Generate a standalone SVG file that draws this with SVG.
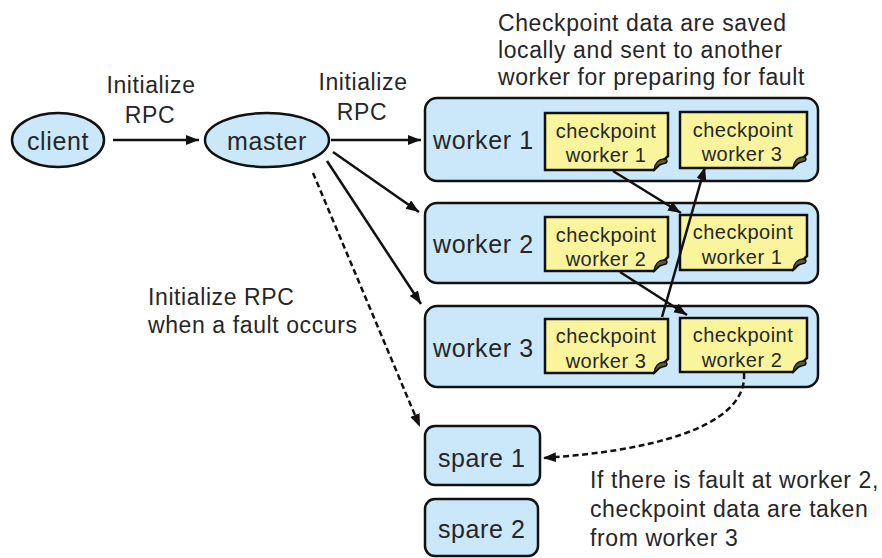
<svg xmlns="http://www.w3.org/2000/svg" width="882" height="558" viewBox="0 0 882 558">
  <style>
    text { font-family: "Liberation Sans", Arial, Helvetica, sans-serif; fill: #262626; letter-spacing: 0.6px; }
    .lbl { font-size: 25px; }
    .ann { font-size: 23px; }
    .cp { font-size: 20px; text-anchor: middle; letter-spacing: 0.5px; }
    .mid { text-anchor: middle; }
    .node { fill: #cbe8fb; stroke: #111; stroke-width: 2.5; }
    .note { fill: #faf59c; stroke: #111; stroke-width: 2.5; stroke-linejoin: miter; }
    .curl { fill: #5a5a3a; stroke: #111; stroke-width: 1.5; }
    .link { fill: none; stroke: #111; stroke-width: 2.5; marker-end: url(#head); }
    .dash { stroke-dasharray: 6 3.5; }
  </style>
  <defs>
    <marker id="head" markerUnits="userSpaceOnUse" markerWidth="14" markerHeight="12" refX="13" refY="5" orient="auto">
      <path d="M0,0 L13,5 L0,10 z" fill="#111"/>
    </marker>
  </defs>

  <!-- free annotations -->
  <text class="ann mid" x="151" y="93">Initialize</text>
  <text class="ann mid" x="150" y="123">RPC</text>
  <text class="ann mid" x="363" y="90">Initialize</text>
  <text class="ann mid" x="362" y="120">RPC</text>
  <text class="ann" x="498" y="31">Checkpoint data are saved</text>
  <text class="ann" x="498" y="58">locally and sent to another</text>
  <text class="ann" x="498" y="85">worker for preparing for fault</text>
  <text class="ann" x="148" y="305">Initialize RPC</text>
  <text class="ann" x="148" y="333">when a fault occurs</text>
  <text class="ann" x="590" y="488">If there is fault at worker 2,</text>
  <text class="ann" x="590" y="517">checkpoint data are taken</text>
  <text class="ann" x="590" y="546">from worker 3</text>

  <!-- client -->
  <g id="client">
    <ellipse class="node" cx="58" cy="140" rx="46" ry="27"/>
    <text class="lbl mid" x="58" y="150">client</text>
  </g>

  <!-- master -->
  <g id="master">
    <ellipse class="node" cx="267" cy="140" rx="62" ry="27"/>
    <text class="lbl mid" x="267" y="150">master</text>
  </g>

  <!-- worker 1 -->
  <g id="worker1">
    <rect class="node" x="425" y="98" width="393" height="83" rx="12"/>
    <text class="lbl" x="433" y="149">worker 1</text>
    <g id="cp-w1-own">
      <path class="note" d="M545,113 H668 V156 L654,170 H545 Z"/>
      <path class="curl" d="M654,170 C655,163 659,159 664,159 C667,159 668,161 666,163 C663,164 660,164 658,166 Z"/>
      <text class="cp" x="606" y="138">checkpoint</text>
      <text class="cp" x="606" y="162">worker 1</text>
    </g>
    <g id="cp-w1-copy">
      <path class="note" d="M680,112 H807 V154 L793,168 H680 Z"/>
      <path class="curl" d="M793,168 C794,161 798,157 803,157 C806,157 807,159 805,161 C802,162 799,162 797,164 Z"/>
      <text class="cp" x="743" y="137">checkpoint</text>
      <text class="cp" x="742" y="161">worker 3</text>
    </g>
  </g>

  <!-- worker 2 -->
  <g id="worker2">
    <rect class="node" x="425" y="203" width="393" height="80" rx="12"/>
    <text class="lbl" x="433" y="253">worker 2</text>
    <g id="cp-w2-own">
      <path class="note" d="M545,217 H668 V257 L654,271 H545 Z"/>
      <path class="curl" d="M654,271 C655,264 659,260 664,260 C667,260 668,262 666,264 C663,265 660,265 658,267 Z"/>
      <text class="cp" x="606" y="242">checkpoint</text>
      <text class="cp" x="606" y="266">worker 2</text>
    </g>
    <g id="cp-w2-copy">
      <path class="note" d="M680,215 H807 V256 L793,270 H680 Z"/>
      <path class="curl" d="M793,270 C794,263 798,259 803,259 C806,259 807,261 805,263 C802,264 799,264 797,266 Z"/>
      <text class="cp" x="743" y="239">checkpoint</text>
      <text class="cp" x="742" y="264">worker 1</text>
    </g>
  </g>

  <!-- worker 3 -->
  <g id="worker3">
    <rect class="node" x="425" y="306" width="393" height="81" rx="12"/>
    <text class="lbl" x="433" y="357">worker 3</text>
    <g id="cp-w3-own">
      <path class="note" d="M545,319 H668 V359 L654,373 H545 Z"/>
      <path class="curl" d="M654,373 C655,366 659,362 664,362 C667,362 668,364 666,366 C663,367 660,367 658,369 Z"/>
      <text class="cp" x="606" y="343">checkpoint</text>
      <text class="cp" x="606" y="368">worker 3</text>
    </g>
    <g id="cp-w3-copy">
      <path class="note" d="M680,318 H807 V358 L793,372 H680 Z"/>
      <path class="curl" d="M793,372 C794,365 798,361 803,361 C806,361 807,363 805,365 C802,366 799,366 797,368 Z"/>
      <text class="cp" x="743" y="342">checkpoint</text>
      <text class="cp" x="742" y="367">worker 2</text>
    </g>
  </g>

  <!-- spares -->
  <g id="spare1">
    <rect class="node" x="425" y="426" width="115" height="59" rx="10"/>
    <text class="lbl" x="438" y="467">spare 1</text>
  </g>
  <g id="spare2">
    <rect class="node" x="425" y="499" width="113" height="57" rx="10"/>
    <text class="lbl" x="438" y="538">spare 2</text>
  </g>

  <!-- connectors -->
  <g id="connectors">
    <line class="link" x1="113" y1="140" x2="199" y2="140"/>
    <line class="link" x1="331" y1="140" x2="421" y2="140"/>
    <line class="link" x1="333" y1="152" x2="419" y2="212"/>
    <line class="link" x1="327" y1="161" x2="421" y2="304"/>
    <line class="link dash" x1="313" y1="173" x2="420" y2="427"/>
    <line class="link" x1="613" y1="171" x2="681" y2="213"/>
    <line class="link" x1="662" y1="317" x2="705" y2="167"/>
    <line class="link" x1="620" y1="272" x2="687" y2="315"/>
    <path class="link dash" d="M744,373 C748,430 640,452 543,458"/>
  </g>
</svg>
